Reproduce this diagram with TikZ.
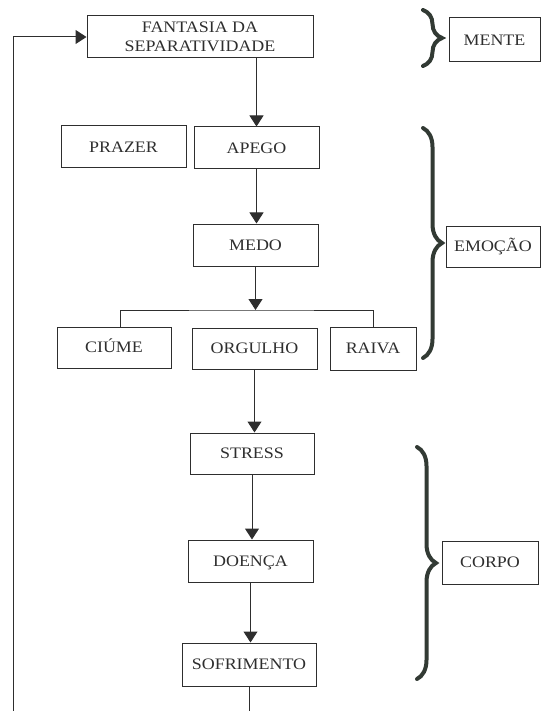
\documentclass[tikz,border=0pt]{standalone}
\usepackage{fontspec}
\setmainfont[FakeStretch=1.12]{Liberation Serif}
\usetikzlibrary{arrows.meta,decorations.pathreplacing}
\definecolor{ink}{HTML}{2E2E2E}
\definecolor{braceink}{HTML}{323A34}
\begin{document}
\begin{tikzpicture}[x=1pt,y=-1pt,
  boxbase/.style={draw=ink, line width=1pt, text=ink, inner sep=0pt,
    font=\fontsize{16}{19}\selectfont},
  box/.style={boxbase, text height=10.5pt, text depth=0pt},
  link/.style={draw=ink, line width=1pt},
  arr/.style={link, -{Triangle[length=11pt,width=14pt]}},
  grp/.style={draw=braceink, line width=4pt, line cap=round, decorate,
    decoration={brace, amplitude=19pt}},
]
\useasboundingbox (0,0) rectangle (542,711);
\clip (0,0) rectangle (542,711);

% main chain
\node[boxbase, align=center, minimum width=226pt, minimum height=42pt] (fant) at (200,37) {FANTASIA DA\\SEPARATIVIDADE};
\node[box, minimum width=125pt, minimum height=42pt] (prazer) at (123.5,147) {PRAZER};
\node[box, minimum width=125pt, minimum height=42pt] (apego) at (256.5,148) {APEGO};
\node[box, minimum width=125pt, minimum height=42pt] (medo) at (255.5,245) {MEDO};
\node[box, minimum width=114pt, minimum height=41pt] (ciume) at (114,347.5) {CIÚME};
\node[box, minimum width=125pt, minimum height=41pt] (orgulho) at (254.5,348.5) {ORGULHO};
\node[box, minimum width=86pt, minimum height=43pt] (raiva) at (373,348.5) {RAIVA};
\node[box, minimum width=124pt, minimum height=41pt] (stress) at (252,453.5) {STRESS};
\node[box, minimum width=125pt, minimum height=42pt] (doenca) at (250.5,561) {DOENÇA};
\node[box, minimum width=134pt, minimum height=43pt] (sofr) at (249,664.5) {SOFRIMENTO};

% group labels
\node[box, minimum width=91pt, minimum height=44pt] (mente) at (494.5,40) {MENTE};
\node[box, minimum width=94pt, minimum height=41pt] (emocao) at (493,246.5) {EMOÇÃO};
\node[box, minimum width=96pt, minimum height=43pt] (corpo) at (490,562.5) {CORPO};

% connectors
\draw[arr] (fant.south -| apego.north) -- (apego.north);
\draw[arr] (apego.south) -- (apego.south |- medo.north);
\coordinate (split) at (256,310);
\draw[arr] (medo.south) -- (medo.south |- split);
\draw[link] ([xshift=6pt]ciume.north) |- (split) -| (raiva.north);
\draw[arr] (orgulho.south) -- (orgulho.south |- stress.north);
\draw[arr] (stress.south) -- (stress.south |- doenca.north);
\draw[arr] (doenca.south) -- (doenca.south |- sofr.north);
\coordinate (ret) at (13,740);
\draw[arr] (sofr.south) |- (ret) |- (fant.west);

% braces
\draw[grp] (423,10) -- (423,66);
\draw[grp] (423,128) -- (423,358);
\draw[grp] (417,447) -- (417,679);
\end{tikzpicture}
\end{document}
